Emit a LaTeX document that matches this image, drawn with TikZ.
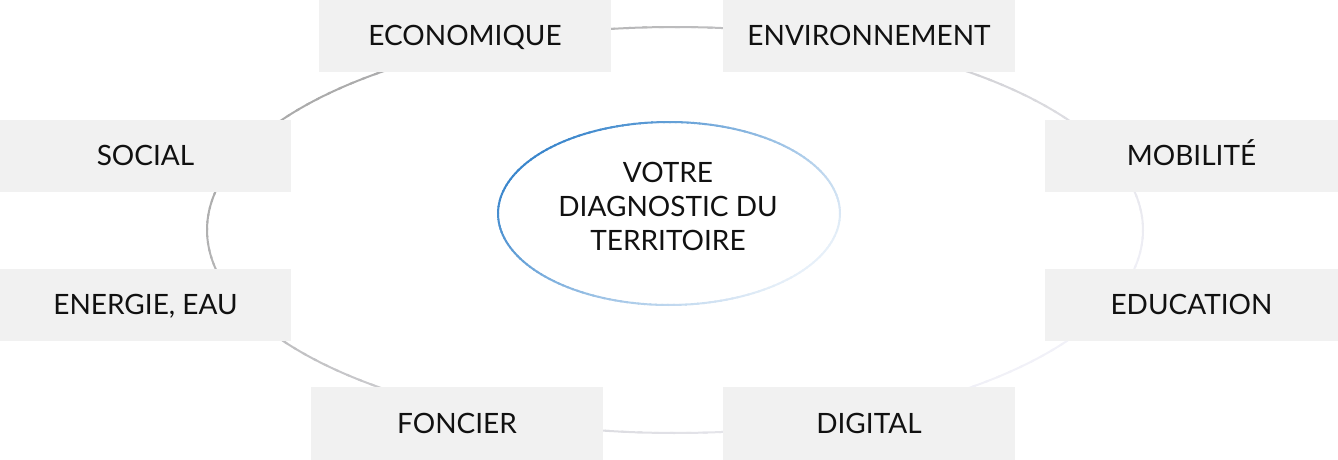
\documentclass[tikz,border=0pt]{standalone}
\usepackage{fontspec}
\setmainfont{Lato}
\definecolor{boxgray}{HTML}{F1F1F1}
\definecolor{ringdark}{HTML}{ABABAB}
\definecolor{ringlight}{HTML}{F2F2F9}
\definecolor{bluedark}{HTML}{3A86CC}
\definecolor{bluelight}{HTML}{E9F1F9}
\definecolor{txt}{HTML}{111111}
\tikzset{
  topic/.style={rectangle, fill=boxgray, minimum width=292pt, minimum height=72pt,
    inner sep=0pt, text=txt, text height=20pt, text depth=0pt,
    font=\fontsize{28}{34}\selectfont},
  centertext/.style={align=center, inner sep=0pt, text=txt,
    font=\fontsize{28}{34}\selectfont}
}
\begin{document}
\begin{tikzpicture}[x=1pt,y=-1pt]
\useasboundingbox (0,0) rectangle (1338,460);
% outer ring with gradient stroke
\foreach \t in {0,2,...,358}{
  \pgfmathtruncatemacro\p{100*(1-cos(\t+1-212))/2}
  \draw[line width=2pt, color=ringlight!\p!ringdark]
    ({675+468*cos(\t)},{230+203*sin(\t)})
    arc[start angle=\t, end angle=\t+2.6, x radius=468, y radius=203];
}
% central ellipse with gradient stroke
\foreach \t in {0,2,...,358}{
  \pgfmathtruncatemacro\p{100*(1-cos(\t+1-212))/2}
  \draw[line width=2pt, color=bluelight!\p!bluedark]
    ({669+171*cos(\t)},{213.5+91.5*sin(\t)})
    arc[start angle=\t, end angle=\t+2.6, x radius=171, y radius=91.5];
}
\node[centertext] (centre) at (668,206) {VOTRE\\DIAGNOSTIC DU\\TERRITOIRE};
% topic boxes
\node[topic] (eco) at (465,36) {ECONOMIQUE};
\node[topic] (env) at (869,36) {ENVIRONNEMENT};
\node[topic, minimum width=291pt] (soc) at (145.5,155.5) {SOCIAL};
\node[topic, minimum width=293pt] (mob) at (1191.5,155.5) {MOBILITÉ};
\node[topic, minimum width=291pt] (ene) at (145.5,304.5) {ENERGIE, EAU};
\node[topic, minimum width=293pt] (edu) at (1191.5,304.5) {EDUCATION};
\node[topic, minimum height=73pt] (fon) at (457,423.5) {FONCIER};
\node[topic, minimum height=73pt] (dig) at (869,423.5) {DIGITAL};
\end{tikzpicture}
\end{document}
